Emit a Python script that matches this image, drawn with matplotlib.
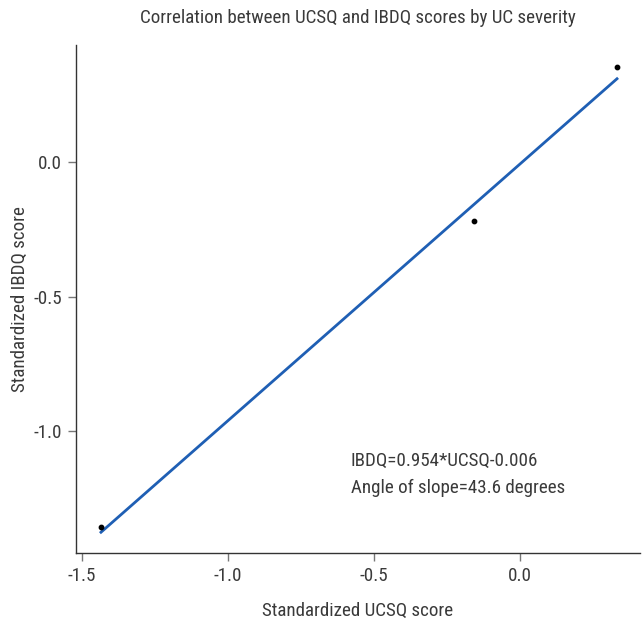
import matplotlib
matplotlib.use("Agg")
import matplotlib.pyplot as plt
import numpy as np

# data
ucsq = [-1.435, -0.158, 0.332]
ibdq = [-1.355, -0.217, 0.355]
slope = 0.954
intercept = -0.006
xticks = [-1.5, -1.0, -0.5, 0.0]
yticks = [-1.0, -0.5, 0.0]
title = "Correlation between UCSQ and IBDQ scores by UC severity"
xlabel = "Standardized UCSQ score"
ylabel = "Standardized IBDQ score"
eq_text = "IBDQ=0.954*UCSQ-0.006\nAngle of slope=43.6 degrees"

plt.rcParams["font.family"] = ["Roboto Condensed", "DejaVu Sans"]
plt.rcParams["font.weight"] = 400
tc = "#3a3a3a"
fs = 13.7

fig = plt.figure(figsize=(6.43, 6.22), dpi=100)
ax = fig.add_axes([0.118, 0.111, 0.877, 0.817])

xs = np.array([min(ucsq), max(ucsq)])
ax.plot(xs, slope * xs + intercept, color="#1f5fb4", lw=2.0)
ax.scatter(ucsq, ibdq, s=10, color="black", zorder=3)

ax.set_xlim(-1.521, 0.41)
ax.set_ylim(-1.452, 0.437)
ax.set_xticks(xticks)
ax.set_xticklabels([f"{v:.1f}" for v in xticks])
ax.set_yticks(yticks)
ax.set_yticklabels([f"{v:.1f}" for v in yticks])

for s in ["top", "right"]:
    ax.spines[s].set_visible(False)
for s in ["left", "bottom"]:
    ax.spines[s].set_color("#333333")
    ax.spines[s].set_linewidth(1.0)
ax.tick_params(direction="out", length=6, width=1, color="#777777",
               labelsize=fs, labelcolor=tc, pad=4)

ax.set_xlabel(xlabel, fontsize=fs, color=tc, labelpad=12, fontweight=400)
ax.set_ylabel(ylabel, fontsize=fs, color=tc, labelpad=3, fontweight=400)
fig.suptitle(title, x=0.557, y=0.985, fontsize=fs, color=tc, fontweight=400)

ax.text(-0.579, -1.16, eq_text, fontsize=fs, color=tc,
        va="center", ha="left", linespacing=1.6)

fig.savefig("out.png", dpi=100)
